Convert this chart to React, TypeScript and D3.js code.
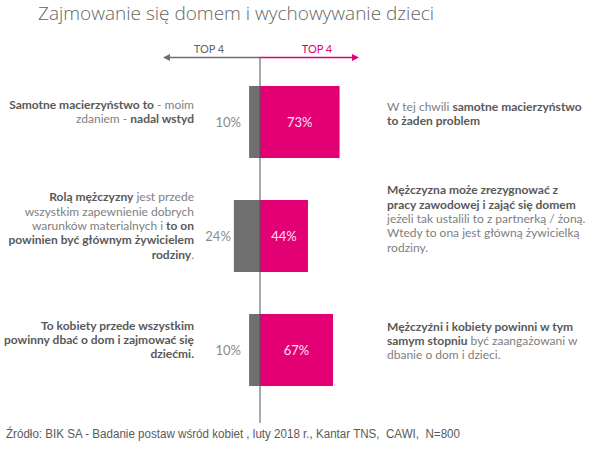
import React from 'react';
import * as d3 from 'd3';

// --- data ---
const categories = ['samotne', 'rola', 'kobiety'];
const leftValues = [10, 24, 10];
const rightValues = [73, 44, 67];

type Seg = [string, boolean];

const leftTexts: Seg[][][] = [
  [
    [['Samotne macierzyństwo to', true], [' - moim', false]],
    [['zdaniem - ', false], ['nadal wstyd', true]],
  ],
  [
    [['Rolą mężczyzny', true], [' jest przede', false]],
    [['wszystkim zapewnienie dobrych', false]],
    [['warunków materialnych i ', false], ['to on', true]],
    [['powinien być głównym żywicielem', true]],
    [['rodziny', true], ['.', false]],
  ],
  [
    [['To kobiety przede wszystkim', true]],
    [['powinny dbać o dom i zajmować się', true]],
    [['dziećmi.', true]],
  ],
];

const rightTexts: Seg[][][] = [
  [
    [['W tej chwili ', false], ['samotne macierzyństwo', true]],
    [['to żaden problem', true]],
  ],
  [
    [['Mężczyzna może zrezygnować z', true]],
    [['pracy zawodowej i zająć się domem', true]],
    [['jeżeli tak ustalili to z partnerką / żoną.', false]],
    [['Wtedy to ona jest główną żywicielką', false]],
    [['rodziny.', false]],
  ],
  [
    [['Mężczyźni i kobiety powinni w tym', true]],
    [['samym stopniu', true], [' być zaangażowani w', false]],
    [['dbanie o dom i dzieci.', false]],
  ],
];

const title = 'Zajmowanie się domem i wychowywanie dzieci';
const axisLabels = ['TOP 4', 'TOP 4'];
const source = 'Źródło: BIK SA - Badanie postaw wśród kobiet , luty 2018 r., Kantar TNS,  CAWI,  N=800';

// --- styles ---
const PINK = '#e20074';
const GREY_BAR = '#6f6f6f';
const BOLD_C = '#595959';
const REG_C = '#808080';
const FONT = 'Lato, "Open Sans", sans-serif';

const W = 595;
const H = 452;
const axisX = 260;
const lineH = 14.4;
const rightOffsets = [-4, -13, -5];

const App: React.FC = () => {
  const x = d3.scaleLinear().domain([0, 100]).range([0, 109]);
  const y = d3.scaleBand<string>()
    .domain(categories)
    .range([65, 407])
    .paddingInner(0.368)
    .paddingOuter(0.184);

  const renderBlock = (lines: Seg[][], cy: number, anchor: 'start' | 'end', tx: number, off: number) =>
    lines.map((segs, i) => (
      <text
        key={i}
        x={tx}
        y={cy + off + (i - (lines.length - 1) / 2) * lineH}
        textAnchor={anchor}
        fontFamily={FONT}
        fontSize={12}
      >
        {segs.map(([t, b], j) => (
          <tspan key={j} fontWeight={b ? 700 : 400} fill={b ? BOLD_C : REG_C} style={{ whiteSpace: 'pre' }}>
            {t}
          </tspan>
        ))}
      </text>
    ));

  return (
    <div style={{ position: 'absolute', left: 0, top: 0 }}>
      <svg width={W} height={H} style={{ display: 'block', background: '#fff' }}>
        <text x={38} y={20} fontFamily='"Open Sans", sans-serif' fontWeight={300} fontSize={19} fill="#666">
          {title}
        </text>

        {/* direction arrows */}
        <line x1={axisX} x2={167} y1={57.5} y2={57.5} stroke={GREY_BAR} strokeWidth={1.5} />
        <path d={`M163,57.5 L170,54 L170,61 Z`} fill={GREY_BAR} />
        <line x1={axisX} x2={354} y1={57.5} y2={57.5} stroke={PINK} strokeWidth={1.5} />
        <path d={`M359,57.5 L352,54 L352,61 Z`} fill={PINK} />
        <text x={209} y={53} textAnchor="middle" fontFamily={FONT} fontSize={11} fill="#666">{axisLabels[0]}</text>
        <text x={317} y={53} textAnchor="middle" fontFamily={FONT} fontSize={11} fill={PINK}>{axisLabels[1]}</text>

        {categories.map((c, i) => {
          const top = y(c) ?? 0;
          const bh = y.bandwidth();
          const cy = top + bh / 2;
          const gw = x(leftValues[i]);
          const pw = x(rightValues[i]);
          return (
            <g key={c}>
              <rect x={axisX - gw} y={top} width={gw} height={bh} fill={GREY_BAR} />
              <rect x={axisX} y={top} width={pw} height={bh} fill={PINK} />
              <text
                x={Math.min(axisX - gw - 3, 241)}
                y={cy + 4.5}
                textAnchor="end"
                fontFamily={FONT}
                fontSize={13}
                fill="#8a8a8a"
              >
                {leftValues[i]}%
              </text>
              <text
                x={axisX + pw / 2}
                y={cy + 5}
                textAnchor="middle"
                fontFamily={FONT}
                fontSize={13}
                fill="#ffe3f4"
              >
                {rightValues[i]}%
              </text>
              {renderBlock(leftTexts[i], cy, 'end', 194, -6)}
              {renderBlock(rightTexts[i], cy, 'start', 387, rightOffsets[i])}
            </g>
          );
        })}

        <line x1={axisX} x2={axisX} y1={57} y2={423} stroke="#555" strokeWidth={1} />

        <text x={6} y={438} fontFamily='"Liberation Sans", Arial, sans-serif' fontSize={12} fill="#595959" textLength={454} lengthAdjust="spacingAndGlyphs" style={{ whiteSpace: 'pre' }}>
          {source}
        </text>
      </svg>
    </div>
  );
};

export default App;
